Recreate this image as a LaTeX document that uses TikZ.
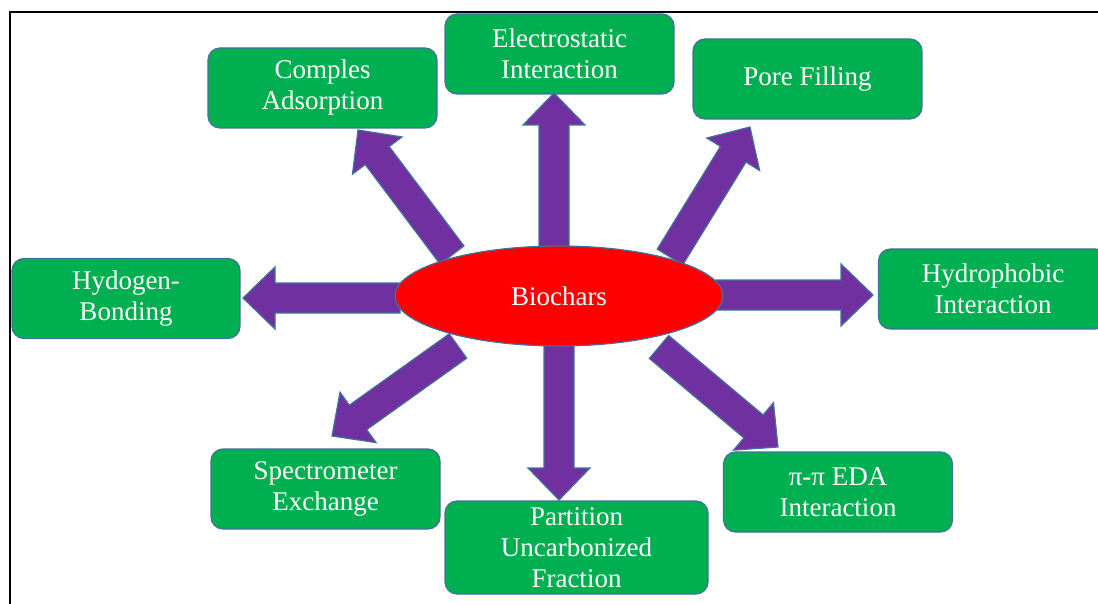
\documentclass[tikz,border=0pt]{standalone}
\usepackage{fontspec}
\setmainfont{Liberation Serif}
\usetikzlibrary{shapes.geometric,calc}

\definecolor{boxgreen}{HTML}{00B050}
\definecolor{edgeblue}{HTML}{41719C}
\definecolor{arrowpurple}{HTML}{7030A0}
\definecolor{corered}{HTML}{FF0000}

% block arrow from #1 (tail centre) to #2 (tip)
\newcommand\blockarrowpath[2]{%
  \draw[blockarrow] let \p3=($(#2)!32pt!(#1)$) in
    ($(#1)!15pt!90:(#2)$) -- ($(\p3)!15pt!90:(#2)$) -- ($(\p3)!31pt!90:(#2)$) -- (#2)
    -- ($(\p3)!31pt!-90:(#2)$) -- ($(\p3)!15pt!-90:(#2)$) -- ($(#1)!15pt!-90:(#2)$) -- cycle;}

\begin{document}
\begin{tikzpicture}[x=1pt,y=-1pt,
  mech/.style={draw=edgeblue, line width=1.2pt, fill=boxgreen, rounded corners=12pt,
    minimum width=229pt, minimum height=80pt, inner sep=0pt, text=white, align=center,
    font=\fontsize{27}{31}\selectfont},
  blockarrow/.style={draw=edgeblue, line width=1.2pt, fill=arrowpurple, line join=miter},
  core/.style={ellipse, draw=edgeblue, line width=1.2pt, fill=corered, inner sep=0pt,
    minimum width=328pt, minimum height=100pt, text=white, font=\fontsize{27}{31}\selectfont}]
\useasboundingbox (0,0) rectangle (1098,604);

% frame
\draw[line width=2.6pt] (1100,12) -| (10,606);

% mechanism boxes
\node[mech] (cplx)  at (322.5,88)  {Comples\\Adsorption};
\node[mech] (elec)  at (559.5,54)  {Electrostatic\\Interaction};
\node[mech] (pore)  at (807.5,79)  {Pore Filling};
\node[mech, minimum width=228pt] (hbond) at (126,298.5) {Hydogen-\\Bonding};
\node[mech] (hphob) at (993,289)   {Hydrophobic\\Interaction};
\node[mech] (spec)  at (325.5,489) {Spectrometer\\Exchange};
\node[mech, minimum width=263pt, minimum height=93pt] (part) at (576.5,547.5) {Partition\\Uncarbonized\\Fraction};
\node[mech] (pipi)  at (838,492)   {π-π EDA\\Interaction};

% arrow tails and tips
\coordinate (tUp) at (554,250);   \coordinate (hUp) at (554,93);
\coordinate (tUL) at (452,255);   \coordinate (hUL) at (358,130);
\coordinate (tUR) at (670,257);   \coordinate (hUR) at (750,127);
\coordinate (tL)  at (400,298);   \coordinate (hL)  at (243,298);
\coordinate (tR)  at (716,295);   \coordinate (hR)  at (873,295);
\coordinate (tLL) at (458,346);   \coordinate (hLL) at (332,436);
\coordinate (tD)  at (559,340);   \coordinate (hD)  at (559,500);
\coordinate (tLR) at (659,347);   \coordinate (hLR) at (778,447);

\blockarrowpath{tUp}{hUp}
\blockarrowpath{tUL}{hUL}
\blockarrowpath{tUR}{hUR}
\blockarrowpath{tL}{hL}
\blockarrowpath{tR}{hR}
\blockarrowpath{tLL}{hLL}
\blockarrowpath{tD}{hD}
\blockarrowpath{tLR}{hLR}

% central node
\node[core] (bio) at (559,296) {Biochars};
\end{tikzpicture}
\end{document}
